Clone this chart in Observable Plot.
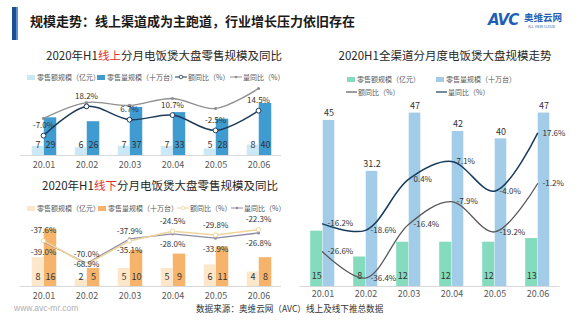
<!DOCTYPE html>
<html><head><meta charset="utf-8">
<script src="https://cdn.jsdelivr.net/npm/d3@7"></script>
<script src="https://cdn.jsdelivr.net/npm/@observablehq/plot@0.6"></script>
<style>
html,body{margin:0;padding:0;background:#fff;}
#page{position:relative;width:580px;height:326px;overflow:hidden;background:#fff;font-family:"Noto Sans CJK SC","Noto Sans",sans-serif;color:#333;}
.abs{position:absolute;white-space:nowrap;}
.layer{position:absolute;left:0;top:0;}
.leg{position:absolute;display:flex;align-items:center;font-size:7px;color:#595959;white-space:nowrap;line-height:8px;}
.ttl{position:absolute;font-size:11.5px;color:#262626;text-align:center;white-space:nowrap;line-height:14px;}
</style></head>
<body><div id="page"></div>
<script>
// ---- data ----
const months = ["20.01","20.02","20.03","20.04","20.05","20.06"];
// online
const onlineAmount = [7,6,7,7,5,8];            // 亿元
const onlineVolume = [29,26,37,33,28,40];      // 十万台
const onlineAmountYoY = [-7.0,18.2,6.7,10.7,-2.5,14.5];
const onlineVolumeYoY = [7.8,21.5,19.0,25.0,16.4,33.6]; // estimated, unlabeled
// offline
const offlineAmount = [8,2,5,5,6,4];
const offlineVolume = [16,5,10,9,11,8];
const offlineAmountYoY = [-37.6,-70.0,-37.9,-24.5,-29.8,-22.3];
const offlineVolumeYoY = [-39.0,-68.9,-35.1,-28.0,-33.9,-26.8];
// all channels
const totalAmount = [15,8,12,12,12,13];
const totalVolume = [45,31.2,47,42,40,47];
const totalAmountYoY = [-26.6,-36.4,-16.4,-7.9,-19.2,-1.2];
const totalVolumeYoY = [-16.2,-18.6,0.4,7.1,-4.0,17.6];

const legendAmount = "零售额规模（亿元）";
const legendVolume = "零售量规模（十万台）";
const legendAmountYoY = "额同比（%）";
const legendVolumeYoY = "量同比（%）";

const page = document.getElementById("page");
const FONT = '"Noto Sans CJK SC","Noto Sans",sans-serif';
const rows = (a, b) => months.map((m, i) => ({month: m, a: a[i], b: b[i]}));
const pct = v => v.toFixed(1) + "%";

function add(el){ el.classList.add("layer"); page.appendChild(el); }
function div(cls, css, html){ const d=document.createElement("div"); d.className=cls; d.style.cssText=css; d.innerHTML=html; page.appendChild(d); return d; }

// header
div("abs","left:12px;top:7px;width:4px;height:33px;background:#1b4f93;","");
div("abs","left:16px;top:7px;width:2px;height:33px;background:#5d8fd0;","");
div("abs","left:30px;top:12px;font-size:13px;font-weight:bold;color:#1a1a1a;line-height:18px;","规模走势：线上渠道成为主跑道，行业增长压力依旧存在");
div("abs","left:488px;top:11px;font-size:15px;font-weight:bold;font-style:italic;color:#1f5fb4;font-family:'DejaVu Sans',sans-serif;letter-spacing:-1px;line-height:18px;","AVC");
div("abs","left:524px;top:12px;font-size:9.5px;font-weight:bold;color:#1f5fb4;line-height:11px;","奥维云网");
div("abs","left:528px;top:24px;font-size:3.5px;color:#1f5fb4;line-height:5px;","ALL VIEW CLOUD");

// titles
div("ttl","left:44px;width:240px;top:48px;",'2020年H1<span style="color:#e0312b">线上</span>分月电饭煲大盘零售规模及同比');
div("ttl","left:40px;width:240px;top:178px;",'2020年H1<span style="color:#e0312b">线下</span>分月电饭煲大盘零售规模及同比');
div("ttl","left:325px;width:240px;top:48px;",'2020H1全渠道分月度电饭煲大盘规模走势');

// legends
function legend(x, y, kind, color, text){
  let sw;
  if (kind === "rect") sw = `<span style="display:inline-block;width:8px;height:5px;background:${color};margin-right:2px"></span>`;
  else if (kind === "lineo") sw = `<svg width="12" height="6" style="margin-right:1px"><line x1="0" y1="3" x2="12" y2="3" stroke="${color}" stroke-width="1"/><circle cx="6" cy="3" r="1.8" fill="#fff" stroke="${color}" stroke-width="0.8"/></svg>`;
  else if (kind === "lined") sw = `<svg width="12" height="6" style="margin-right:1px"><line x1="0" y1="3" x2="12" y2="3" stroke="${color}" stroke-width="1"/><circle cx="6" cy="3" r="1.3" fill="${color}"/></svg>`;
  else sw = `<svg width="11" height="6" style="margin-right:1px"><line x1="0" y1="3" x2="11" y2="3" stroke="${color}" stroke-width="1.2"/></svg>`;
  div("leg", `left:${x}px;top:${y-4}px;`, sw + `<span>${text}</span>`);
}
const C1 = {light:"#cbe8f7", dark:"#3f9bd0", l1:"#1f3b5a", l2:"#8f8f8f"};
const C2 = {light:"#fde7cb", dark:"#f5b36c", l1:"#efd49b", l2:"#8e8aa6"};
const C3 = {light:"#84dbbd", dark:"#a2cce8", l1:"#595959", l2:"#173b5b"};
legend(27,77,"rect",C1.light,legendAmount);
legend(97,77,"rect",C1.dark,legendVolume);
legend(175,77,"lineo",C1.l1,legendAmountYoY);
legend(230,77,"lined",C1.l2,legendVolumeYoY);
legend(27,208,"rect",C2.light,legendAmount);
legend(98,208,"rect",C2.dark,legendVolume);
legend(177,208,"lineo",C2.l1,legendAmountYoY);
legend(231,208,"lined",C2.l2,legendVolumeYoY);
legend(347,79,"rect",C3.light,legendAmount);
legend(436,79,"rect",C3.dark,legendVolume);
legend(346,92,"line",C3.l1,legendAmountYoY);
legend(436,92,"line",C3.l2,legendVolumeYoY);

// footer
div("abs","left:14px;top:302px;font-size:8.5px;color:#b0b0b0;font-family:'Liberation Sans',sans-serif;line-height:12px;","www.avc-mr.com");
div("abs","left:196px;top:302px;font-size:8.6px;color:#333;line-height:12px;","数据来源：奥维云网（AVC）线上及线下推总数据");

const baseStyle = {background:"transparent", color:"#595959", fontSize:"9px", fontFamily:FONT, overflow:"visible"};

function barChart({left, right, top, base, ymax, amount, volume, C, padAxis, lightW, darkW, amtDy, volLabelTop}){
  const bw = (580 - right - left) / months.length;
  const h = bw/2;
  const data = rows(amount, volume);
  const marks = [
    Plot.ruleY([0], {stroke:"#d9d9d9", strokeWidth:1}),
    Plot.barY(data, {x:"month", y:"a", fill:C.light, insetLeft:h-lightW, insetRight:h}),
    Plot.barY(data, {x:"month", y:"b", fill:C.dark, insetLeft:h, insetRight:h-darkW}),
    Plot.text(data, {x:"month", y:0, text:d=>String(d.a), dx:-lightW/2, dy:amtDy, fontSize:9, fill:"#333"}),
  ];
  if (volLabelTop) marks.push(Plot.text(data, {x:"month", y:"b", text:d=>String(d.b), dx:darkW/2, dy:-7, fontSize:9, fill:"#333"}));
  else marks.push(Plot.text(data, {x:"month", y:0, text:d=>String(d.b), dx:darkW/2, dy:amtDy, fontSize:9, fill:"#333"}));
  return Plot.plot({
    width:580, height:326,
    marginLeft:left, marginRight:right, marginTop:top, marginBottom:326-base,
    style: baseStyle,
    x:{type:"band", domain:months, padding:0, tickSize:0, tickPadding:padAxis, label:null},
    y:{domain:[0,ymax], range:[base, top], axis:null},
    marks
  });
}

function lineChart({left, right, dom, rng, s1, s2, C, curve, mode}){
  const d1 = months.map((m,i)=>({month:m, v:s1[i]}));
  const d2 = months.map((m,i)=>({month:m, v:s2[i]}));
  const marks = [];
  if (mode === 1) {
    marks.push(
      Plot.line(d2, {x:"month", y:"v", stroke:C.l2, strokeWidth:1.3, curve}),
      Plot.dot(d2, {x:"month", y:"v", r:1.6, fill:C.l2}),
      Plot.line(d1, {x:"month", y:"v", stroke:C.l1, strokeWidth:1.5, curve}),
      Plot.dot(d1, {x:"month", y:"v", r:2.4, fill:"#fff", stroke:C.l1, strokeWidth:1}),
      Plot.text(d1, {x:"month", y:"v", text:d=>pct(d.v), dy:-10, fontSize:8, fill:"#333"})
    );
  } else if (mode === 2) {
    const lowest = d3.min(d2, d => d.v);
    marks.push(
      Plot.line(d2, {x:"month", y:"v", stroke:C.l2, strokeWidth:1.3, curve}),
      Plot.dot(d2, {x:"month", y:"v", r:1.6, fill:C.l2}),
      Plot.line(d1, {x:"month", y:"v", stroke:C.l1, strokeWidth:1.5, curve}),
      Plot.dot(d1, {x:"month", y:"v", r:2.2, fill:"#fff", stroke:C.l1, strokeWidth:1}),
      Plot.text(d1, {x:"month", y:"v", text:d=>pct(d.v), dy:-10, fontSize:8, fill:"#333"}),
      Plot.text(d2.filter(d => d.v !== lowest), {x:"month", y:"v", text:d=>pct(d.v), dy:11, fontSize:8, fill:"#333"}),
      Plot.text(d2.filter(d => d.v === lowest), {x:"month", y:"v", text:d=>pct(d.v), dy:1, fontSize:8, fill:"#333"})
    );
  } else {
    marks.push(
      Plot.line(d1, {x:"month", y:"v", stroke:C.l1, strokeWidth:1.3, curve}),
      Plot.line(d2, {x:"month", y:"v", stroke:C.l2, strokeWidth:1.5, curve}),
      Plot.text(d1, {x:"month", y:"v", text:d=>pct(d.v), dx:5, textAnchor:"start", fontSize:8, fill:"#333"}),
      Plot.text(d2, {x:"month", y:"v", text:d=>pct(d.v), dx:5, textAnchor:"start", fontSize:8, fill:"#333"})
    );
  }
  return Plot.plot({
    width:580, height:326,
    marginLeft:left, marginRight:right, marginTop:0, marginBottom:0,
    style: baseStyle,
    x:{type:"point", domain:months, padding:0.5, axis:null},
    y:{domain:dom, range:rng, axis:null},
    marks
  });
}

// chart 1: online
add(barChart({left:20, right:299, top:90, base:155, ymax:50, amount:onlineAmount, volume:onlineVolume, C:C1, padAxis:6, lightW:12, darkW:13, amtDy:-10}));
add(lineChart({left:20, right:299, dom:[-30,40], rng:[161.8,80.6], s1:onlineAmountYoY, s2:onlineVolumeYoY, C:C1, curve:"catmull-rom", mode:1}));
// chart 2: offline
add(barChart({left:20, right:299, top:214, base:286, ymax:20, amount:offlineAmount, volume:offlineVolume, C:C2, padAxis:6, lightW:12, darkW:13, amtDy:-9}));
add(lineChart({left:20, right:299, dom:[-80,0], rng:[271,213], s1:offlineAmountYoY, s2:offlineVolumeYoY, C:C2, curve:"linear", mode:2}));
// chart 3: all channels
add(barChart({left:299.3, right:20.3, top:101.5, base:286, ymax:50, amount:totalAmount, volume:totalVolume, C:C3, padAxis:4, lightW:12.5, darkW:12, amtDy:-10, volLabelTop:true}));
add(lineChart({left:299.3, right:20.3, dom:[-40,20], rng:[287.2,126.4], s1:totalAmountYoY, s2:totalVolumeYoY, C:C3, curve:"catmull-rom", mode:3}));
</script></body></html>
